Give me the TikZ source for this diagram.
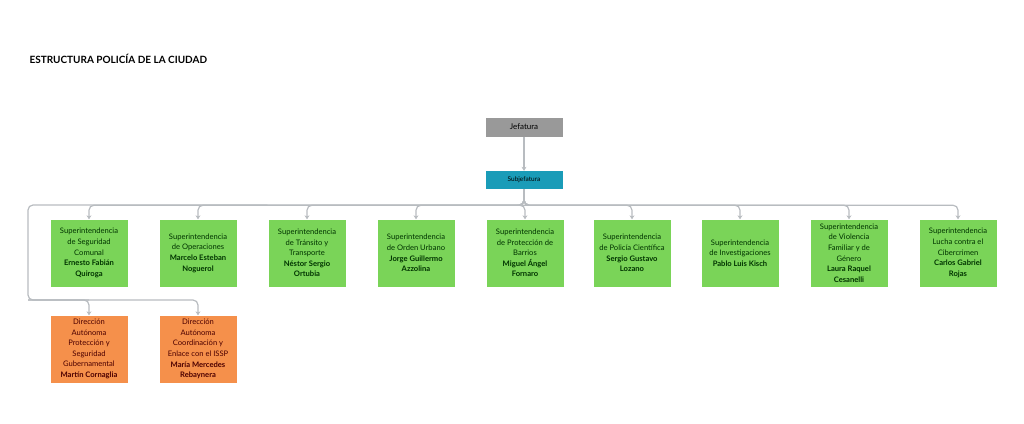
\documentclass[tikz,border=0pt]{standalone}
\usepackage{fontspec}
\setmainfont{Lato}
\usetikzlibrary{positioning,arrows.meta}
\definecolor{jefe}{HTML}{999999}
\definecolor{subj}{HTML}{1A9CB8}
\definecolor{verde}{HTML}{7AD458}
\definecolor{naranja}{HTML}{F5904B}
\definecolor{linea}{HTML}{B8BCC0}
\tikzset{
  box/.style={minimum width=77pt,minimum height=67pt,inner sep=1pt,align=center,
    font=\fontsize{7.6}{10.6}\selectfont},
  sup/.style={box,fill=verde,text=black!80!green},
  dir/.style={box,fill=naranja,text=black!70!red},
  conn/.style={draw=linea,line width=1.2pt,rounded corners=5pt,-{Stealth[length=4pt,width=5pt]}}
}
\begin{document}
\begin{tikzpicture}[x=1pt,y=-1pt]
\useasboundingbox (0,0) rectangle (1024,423);
\node[anchor=west,font=\fontsize{10}{12}\bfseries\selectfont] (title) at (26,59) {ESTRUCTURA POLICÍA DE LA CIUDAD};
\node[fill=jefe,minimum width=77pt,minimum height=19pt,font=\fontsize{8}{9}\selectfont] (jef) at (524,127) {Jefatura};
\node[fill=subj,minimum width=77pt,minimum height=18pt,font=\fontsize{6.5}{8}\selectfont] (sub) at (524,180) {Subjefatura};
\node[sup] (s1) at (89,253) {Superintendencia\\de Seguridad\\Comunal\\\textbf{Ernesto Fabián}\\\textbf{Quiroga}};
\node[sup] (s2) at (198,253) {Superintendencia\\de Operaciones\\\textbf{Marcelo Esteban}\\\textbf{Noguerol}};
\node[sup] (s3) at (307,253) {Superintendencia\\de Tránsito y\\Transporte\\\textbf{Néstor Sergio}\\\textbf{Ortubia}};
\node[sup] (s4) at (416,253) {Superintendencia\\de Orden Urbano\\\textbf{Jorge Guillermo}\\\textbf{Azzolina}};
\node[sup] (s5) at (525,253) {Superintendencia\\de Protección de\\Barrios\\\textbf{Miguel Ángel}\\\textbf{Fornaro}};
\node[sup] (s6) at (632,253) {Superintendencia\\de Policía Científica\\\textbf{Sergio Gustavo}\\\textbf{Lozano}};
\node[sup] (s7) at (740,253) {Superintendencia\\de Investigaciones\\\textbf{Pablo Luis Kisch}};
\node[sup] (s8) at (849,253) {Superintendencia\\de Violencia\\Familiar y de\\Género\\\textbf{Laura Raquel}\\\textbf{Cesanelli}};
\node[sup] (s9) at (958,253) {Superintendencia\\Lucha contra el\\Cibercrimen\\\textbf{Carlos Gabriel}\\\textbf{Rojas}};
\node[dir] (d1) at (89,349) {Dirección\\Autónoma\\Protección y\\Seguridad\\Gubernamental\\\textbf{Martín Cornaglia}};
\node[dir] (d2) at (198,349) {Dirección\\Autónoma\\Coordinación y\\Enlace con el ISSP\\\textbf{María Mercedes}\\\textbf{Rebaynera}};
\coordinate (loopA) at (28,205);
\coordinate (loopB) at (28,300);
\draw[conn] (jef) -- (sub);
\foreach \s in {s1,s2,s3,s4,s5,s6,s7,s8,s9}
  \draw[conn] (sub.south) -- ++(0,16) -| (\s.north);
\draw[draw=linea,line width=1.2pt,rounded corners=5pt] (sub.south) -- ++(0,16) -- (loopA) -- (loopB) -- (89,300);
\draw[conn] (loopB) -| (d1.north);
\draw[conn] (loopB) -| (d2.north);
\end{tikzpicture}
\end{document}
